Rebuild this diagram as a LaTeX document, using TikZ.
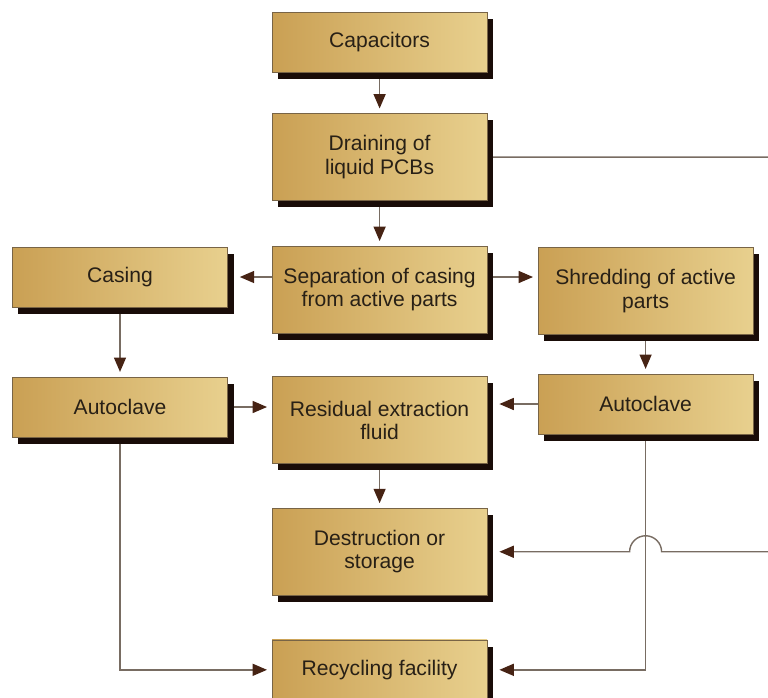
\documentclass[tikz,border=0pt]{standalone}
\usepackage{fontspec}
\setmainfont{Liberation Sans}
\definecolor{golddark}{RGB}{202, 160, 84}
\definecolor{goldlight}{RGB}{232, 208, 142}
\definecolor{edge}{RGB}{120, 100, 70}
\definecolor{wire}{RGB}{120, 108, 98}
\definecolor{tip}{RGB}{70, 35, 20}
\definecolor{shade}{RGB}{25, 12, 8}
\definecolor{ink}{RGB}{40, 32, 22}
\usetikzlibrary{arrows.meta, positioning, shadows, backgrounds, calc}

\begin{document}
\begin{tikzpicture}[
        box/.style={draw=edge, line width=0.4pt, left color=golddark, right color=goldlight, text=ink, align=center, minimum width=5.375cm, minimum height=1.5cm, inner sep=2pt, font=\fontsize{15}{16.5}\selectfont, drop shadow={shadow xshift=0.15cm, shadow yshift=-0.17cm, fill=shade, opacity=1}},
        tall/.style={box, minimum height=2.175cm},
        arr/.style={-{Triangle[length=0.36cm, width=0.3cm, color=tip]}, line width=1pt, wire, shorten >=0.12cm},
        link/.style={line width=1pt, wire}
    ]
        \useasboundingbox (0,0) rectangle (19.2,-17.425);
        % centre column
        \node[box] (cap) at (9.49,-1.05) {Capacitors};
        \node[tall, below=1.025cm of cap] (drain) {Draining of\\liquid PCBs};
        \node[tall, below=1.125cm of drain] (sep) {Separation of casing\\from active parts};
        \node[tall, below=1.075cm of sep] (res) {Residual extraction\\fluid};
        \node[tall, below=1.1cm of res] (dest) {Destruction or\\storage};
        \node[box, below=1.1cm of dest] (rec) {Recycling facility};
        % side columns
        \node[box] (casing) at (3.0,-6.925) {Casing};
        \node[box] (aclL) at (3.0,-10.175) {Autoclave};
        \node[tall] (shred) at (16.14,-7.275) {Shredding of active\\parts};
        \node[box] (aclR) at (16.14,-10.1) {Autoclave};
        \coordinate (outer) at (19.8,0);
        \begin{scope}[on background layer]
            \draw[arr] (cap) -- (drain);
            \draw[arr] (drain) -- (sep);
            \draw[arr] (res) -- (dest);
            \draw[arr, shorten >=0.3cm] (sep.west |- casing.east) -- (casing.east);
            \draw[arr] (sep.east |- casing.east) -- (shred.west |- casing.east);
            \draw[arr] (casing) -- (aclL);
            \draw[arr] (shred) -- (aclR);
            \draw[arr] (aclL.east) -- (res.west |- aclL.east);
            \draw[arr, shorten >=0.3cm] (aclR.west) -- (res.east |- aclR.west);
            \draw[arr] (aclL.south) |- (rec.west);
            \draw[arr, shorten >=0.3cm] (aclR.south) |- (rec.east);
            \draw[arr, shorten >=0.3cm] (drain.east) -- (drain.east -| outer) -- (outer |- dest.east)
                -- ([xshift=0.4cm]aclR.south |- dest.east) arc[start angle=0, end angle=180, radius=0.4cm]
                -- (dest.east);
        \end{scope}
    \end{tikzpicture}
\end{document}
